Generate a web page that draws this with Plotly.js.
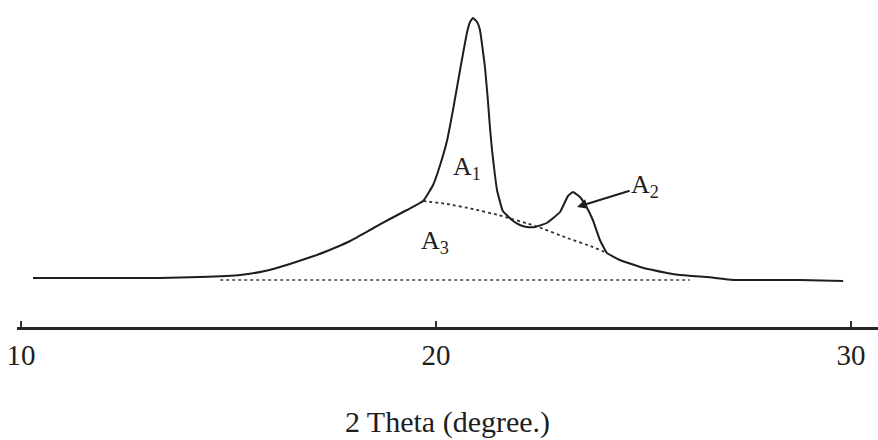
<!DOCTYPE html>
<html>
<head>
<meta charset="utf-8">
<script src="https://cdn.plot.ly/plotly-3.0.1.min.js"></script>
<style>html,body{margin:0;padding:0;background:#fff;}#chart{width:878px;height:440px;}</style>
</head>
<body>
<div id="chart"></div>
<script>
// Measured XRD pattern (2θ in degrees, intensity in arbitrary units)
const twoTheta = [10.29, 11.90, 13.35, 14.31, 15.28, 15.88, 16.48, 17.13, 17.61, 17.93, 18.41, 18.89, 19.30, 19.69, 19.93, 20.10, 20.27, 20.41, 20.58, 20.75, 20.82, 20.89, 20.99, 21.06, 21.18, 21.25, 21.30, 21.35, 21.42, 21.47, 21.61, 21.86, 22.02, 22.19, 22.39, 22.67, 22.99, 23.18, 23.30, 23.47, 23.64, 23.78, 23.95, 24.12, 24.43, 24.92, 25.57, 25.88, 26.53, 27.16, 28.77, 29.81];
const intensity = [49, 49, 49, 50, 52, 56, 63, 72, 80, 86, 97, 108, 117, 126, 142, 162, 187, 217, 257, 295, 305, 309, 305, 297, 260, 227, 200, 177, 152, 137, 116, 106, 102, 100, 100, 104, 115, 131, 135, 130, 119, 107, 87, 74, 67, 60, 54, 52, 50, 47, 47, 46];

// Amorphous halo (A3 boundary) under the crystalline peaks
const amorphX = [19.69, 20.27, 20.89, 21.50, 22.40, 23.16, 23.78, 24.12];
const amorphY = [126, 123, 118, 112, 101, 89, 80, 74];

// Background baseline
const baseX = [14.80, 26.12];
const baseY = [47, 47];

// Tick labels
const tickVals = [10, 20, 30];
const tickText = ['10', '20', '30'];

const ink = '#1e1e1e';
const serif = '"Liberation Serif", "DejaVu Serif", serif';

const traces = [
  {x: baseX, y: baseY, mode: 'lines', line: {color: '#444', width: 1.6, dash: 'dot'}, hoverinfo: 'skip', showlegend: false},
  {x: amorphX, y: amorphY, mode: 'lines', line: {color: '#333', width: 1.8, dash: 'dot', shape: 'spline', smoothing: 0.4}, showlegend: false},
  {x: twoTheta, y: intensity, mode: 'lines', line: {color: ink, width: 2, shape: 'spline', smoothing: 0.3}, showlegend: false}
];

const layout = {
  width: 878, height: 440,
  paper_bgcolor: '#fff', plot_bgcolor: '#fff',
  margin: {l: 17, r: 0, t: 0, b: 113},
  showlegend: false,
  xaxis: {
    range: [9.904, 30.651],
    tickvals: tickVals, ticktext: tickText,
    ticks: 'inside', ticklen: 6, tickwidth: 1.5, tickcolor: '#333',
    showline: true, linewidth: 3, linecolor: '#262626',
    showgrid: false, zeroline: false,
    tickfont: {family: serif, size: 29, color: ink},
    title: {text: '2 Theta (degree.)', font: {family: serif, size: 30, color: ink}, standoff: 42}
  },
  yaxis: {range: [0, 327], visible: false, showgrid: false, zeroline: false},
  annotations: [
    {x: 20.75, y: 159, xref: 'x', yref: 'y', text: 'A<sub>1</sub>', showarrow: false, font: {family: serif, size: 26, color: ink}},
    {x: 19.98, y: 85, xref: 'x', yref: 'y', text: 'A<sub>3</sub>', showarrow: false, font: {family: serif, size: 26, color: ink}},
    {x: 23.40, y: 120, xref: 'x', yref: 'y', ax: 25.04, ay: 141, axref: 'x', ayref: 'y',
     text: 'A<sub>2</sub>', showarrow: true, arrowhead: 2, arrowsize: 1, arrowwidth: 2, arrowcolor: ink,
     font: {family: serif, size: 26, color: ink}}
  ]
};

Plotly.newPlot('chart', traces, layout, {displayModeBar: false, staticPlot: true});
</script>
</body>
</html>
